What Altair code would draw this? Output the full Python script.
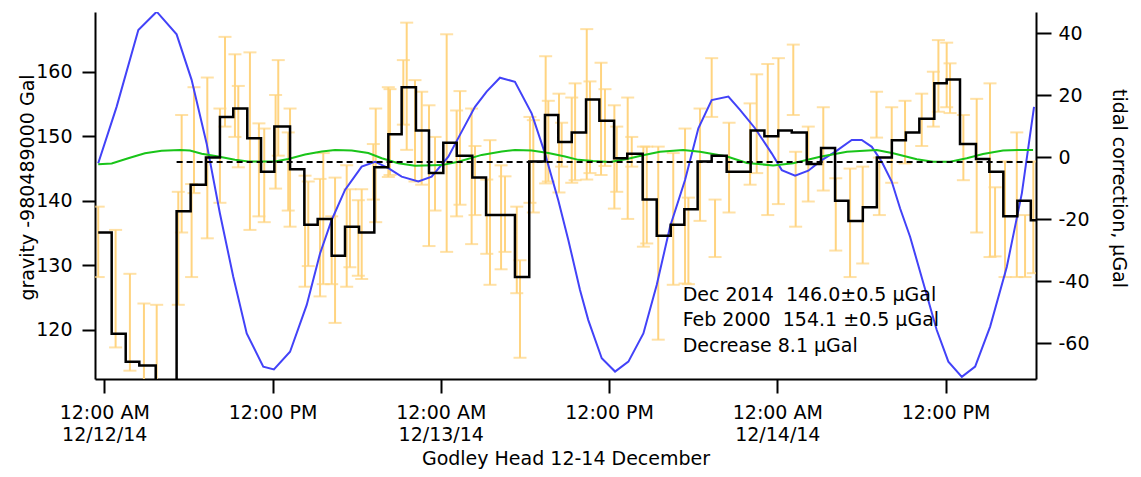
import altair as alt
import pandas as pd

# ---------------- data ----------------
# hours since 12:00 AM 12/12/14
x_min, x_max = -0.66, 66.45

step_hours = [-0.43, 0.53, 1.53, 2.50, 3.67, 5.16, 6.16, 7.25, 8.25, 9.20, 10.20, 11.18,
              12.13, 13.25, 14.27, 15.22, 16.22, 17.17, 18.17, 19.26, 20.26, 21.21, 22.23,
              23.16, 24.18, 25.14, 26.25, 27.23, 29.29, 30.31, 31.43, 32.38, 33.34, 34.36,
              35.31, 36.36, 37.30, 38.40, 39.40, 40.40, 41.37, 42.32, 43.32, 44.39, 46.10,
              47.08, 48.07, 49.03, 50.10, 51.12, 52.12, 53.07, 54.10, 55.10, 56.17, 57.17,
              58.13, 59.20, 60.08, 61.03, 62.17, 63.12, 64.12, 65.12, 66.08, 66.45]
step_gravity = [135.1, 119.4, 115.1, 114.5, 108.0, 138.4, 142.5, 146.7, 153.0, 154.3, 149.7, 144.5,
                151.5, 144.9, 136.3, 137.2, 131.5, 136.0, 135.1, 145.2, 150.3, 157.6, 150.9,
                144.3, 149.0, 147.0, 143.6, 137.8, 128.2, 146.1, 153.3, 149.1, 150.6, 155.7,
                152.4, 146.6, 147.3, 140.2, 134.6, 136.3, 138.7, 146.1, 147.0, 144.5, 150.9,
                150.0, 150.9, 150.6, 145.7, 148.2, 140.0, 136.9, 139.0, 146.7, 149.4, 150.6,
                152.7, 158.2, 158.8, 148.8, 146.5, 144.5, 137.6, 140.0, 137.0, 137.0]

eb_hours = [-0.43, 0.81, 1.83, 2.83, 3.74, 5.28, 5.52, 6.23, 6.40, 7.35, 8.25, 8.61, 9.32, 9.56,
            10.39, 11.03, 11.41, 12.22, 12.41, 13.12, 13.25, 14.32, 14.55, 15.39, 15.62, 16.22,
            16.46, 17.29, 17.52, 18.12, 18.36, 19.19, 19.36, 20.26, 20.38, 21.33, 21.57, 22.16,
            22.64, 23.16, 23.59, 24.42, 25.13, 25.37, 26.20, 26.44, 27.28, 27.51, 28.30, 28.58,
            29.42, 29.65, 30.36, 30.60, 31.48, 31.67, 32.43, 32.62, 33.34, 33.58, 34.41, 34.64,
            35.43, 35.71, 36.38, 36.55, 37.33, 37.62, 38.45, 38.69, 39.51, 40.58, 41.42, 41.66,
            42.49, 43.32, 43.56, 44.56, 46.06, 46.53, 47.32, 48.08, 49.14, 49.31, 50.21, 51.28,
            52.17, 53.19, 54.09, 55.08, 55.28, 56.16, 57.11, 58.30, 59.13, 59.49, 60.08, 60.32,
            61.27, 62.22, 63.17, 63.53, 64.24, 65.08, 65.67, 66.26]
eb_upper = [139.1, 135.5, 128.7, 124.1, 123.9, 141.4, 153.3, 142.6, 157.6, 159.1, 154.3, 165.4, 162.7, 157.8,
            163.0, 152.0, 151.2, 156.4, 161.8, 150.6, 154.3, 143.9, 143.0, 143.4, 147.4, 137.6,
            143.6, 145.5, 141.8, 140.1, 141.8, 148.8, 154.3, 157.6, 157.3, 161.8, 167.6, 158.7,
            156.9, 154.8, 149.9, 165.8, 154.0, 157.0, 154.3, 148.5, 143.3, 149.4, 145.5, 143.8,
            139.1, 130.8, 153.0, 152.5, 162.4, 155.5, 156.6, 152.1, 156.0, 158.2, 166.6, 158.5,
            161.4, 157.3, 154.8, 151.5, 156.0, 149.9, 148.4, 148.4, 148.4, 147.4, 151.2, 140.5,
            154.3, 162.1, 140.2, 152.1, 155.1, 159.6, 161.2, 162.1, 164.2, 147.6, 151.5, 154.5,
            143.5, 145.0, 145.3, 156.9, 146.7, 154.5, 155.5, 156.6, 160.0, 164.9, 164.5, 161.3,
            153.3, 155.8, 158.2, 142.1, 146.1, 150.6, 137.8, 146.1]
eb_lower = [128.2, 117.3, 113.7, 104.0, 96.0, 123.9, 135.1, 128.2, 141.2, 134.2, 139.7, 151.5, 149.9, 145.2,
            135.5, 137.6, 136.7, 141.9, 147.0, 138.5, 136.0, 126.7, 129.9, 125.2, 127.1, 127.1,
            121.1, 126.7, 129.7, 128.4, 127.9, 140.2, 136.7, 143.7, 144.0, 151.8, 147.9, 143.0,
            142.5, 133.0, 138.5, 132.1, 137.6, 139.4, 133.3, 137.8, 131.8, 127.0, 129.4, 132.1,
            125.7, 115.7, 139.7, 138.2, 142.7, 143.0, 141.3, 145.3, 142.8, 143.2, 143.3, 144.3,
            144.0, 145.4, 138.8, 141.4, 137.2, 145.3, 132.9, 133.4, 118.5, 127.0, 127.2, 127.1,
            136.9, 153.0, 131.3, 138.2, 142.5, 144.3, 137.8, 139.5, 153.3, 136.0, 139.9, 141.6,
            132.3, 128.2, 130.3, 149.8, 137.8, 142.8, 145.8, 148.5, 151.5, 153.8, 154.5, 153.6,
            143.2, 135.1, 131.3, 131.4, 128.2, 128.2, 128.2, 128.8]

tide_hours = [-0.43, 0.88, 2.43, 3.74, 5.16, 6.23, 7.30, 8.25, 9.20, 10.16, 11.34, 12.10, 13.25,
              14.44, 15.39, 16.22, 17.17, 18.36, 19.31, 20.26, 21.21, 22.40, 23.35, 24.54, 25.49,
              26.44, 27.27, 28.22, 29.29, 30.48, 31.43, 32.38, 33.10, 33.93, 34.52, 35.48, 36.43,
              37.38, 38.45, 39.40, 40.35, 41.42, 42.37, 43.32, 44.51, 45.34, 46.41, 47.60, 48.32,
              49.27, 50.21, 51.17, 52.12, 53.31, 54.02, 54.74, 55.45, 56.16, 56.76, 57.47, 58.42,
              59.37, 60.20, 61.16, 62.11, 63.18, 64.37, 65.44, 66.31]
tide_values = [-1.9, 16.3, 41.1, 47.0, 39.7, 25.0, 4.5, -18.1, -38.5, -56.8, -67.5, -68.4, -62.7,
               -47.6, -31.0, -20.2, -10.5, -3.0, -1.4, -3.5, -6.2, -7.8, -6.2, 0.2, 8.3,
               16.3, 21.2, 25.7, 24.4, 14.2, 1.3, -13.8, -26.7, -42.8, -52.5, -64.8, -69.1,
               -65.9, -56.8, -41.2, -22.4, -7.3, 9.4, 18.5, 19.6, 15.3, 9.4, 1.3, -4.1,
               -5.9, -4.3, -0.9, 1.8, 5.6, 5.6, 3.4, -1.4, -7.8, -16.5, -25.6, -40.6,
               -55.7, -65.9, -70.8, -67.5, -54.6, -35.3, -11.6, 16.3]

green_hours = [-0.43, 0.53, 1.71, 2.90, 4.09, 5.40, 6.11, 6.95, 8.13, 9.32, 10.27, 12.18, 13.12,
               14.32, 15.51, 16.46, 17.65, 18.83, 19.79, 20.97, 22.16, 24.07, 25.25, 26.92, 28.35,
               29.29, 30.48, 31.67, 32.86, 33.81, 34.86, 36.07, 37.28, 38.42, 39.63, 41.28, 42.49,
               44.42, 45.84, 47.70, 49.12, 51.05, 52.97, 55.09, 56.26, 57.95, 59.11, 60.32, 61.51,
               62.67, 64.10, 65.31, 66.24]
green_values = [-2.2, -2.0, -0.3, 1.3, 2.1, 2.4, 2.2, 1.2, 0.3, -0.8, -1.3, -1.3, -0.5,
                0.9, 1.9, 2.4, 2.2, 1.4, -0.3, -1.9, -2.7, -2.5, -1.4, 0.8, 1.9,
                2.4, 2.2, 1.4, 0.3, -0.8, -1.2, -1.5, -0.5, 0.7, 1.8, 2.4, 1.8,
                0.3, -1.8, -2.6, -1.9, 0.2, 1.8, 2.4, 1.3, -0.6, -1.4, -1.4, -0.3,
                1.1, 2.2, 2.4, 2.4]

mean_level = 146.0
mean_start_hour = 5.16

NB = "\u00a0"
annotation_lines = ["Dec 2014" + NB + NB + "146.0\u00b10.5" + NB + "\u00b5Gal",
                    "Feb 2000" + NB + NB + "154.1" + NB + "\u00b10.5" + NB + "\u00b5Gal",
                    "Decrease 8.1" + NB + "\u00b5Gal"]
annotation_hour = [41.25, 41.25, 41.25]
annotation_gravity = [124.5, 120.6, 116.6]

x_tick_hours = [0, 12, 24, 36, 48, 60]
x_tick_labels = [["12:00 AM", "12/12/14"], ["12:00 PM"], ["12:00 AM", "12/13/14"],
                 ["12:00 PM"], ["12:00 AM", "12/14/14"], ["12:00 PM"]]
left_ticks = [120, 130, 140, 150, 160]
right_ticks = [-60, -40, -20, 0, 20, 40]

g_domain = [112.41, 169.25]
t_domain = [-71.5, 46.9]

FONT = "DejaVu Sans"
ORANGE = "#FFD480"

# ---------------- tables ----------------
step_df = pd.DataFrame({"h": step_hours, "g": step_gravity})
eb_df = pd.DataFrame({"h": eb_hours, "up": eb_upper, "lo": eb_lower})
cap_df = pd.DataFrame({"h": eb_hours + eb_hours, "v": eb_upper + eb_lower})
tide_df = pd.DataFrame({"h": tide_hours, "t": tide_values})
green_df = pd.DataFrame({"h": green_hours, "t": green_values})
mean_df = pd.DataFrame({"h1": [mean_start_hour], "h2": [x_max], "g": [mean_level]})
ann_df = pd.DataFrame({"h": annotation_hour, "g": annotation_gravity, "txt": annotation_lines})


def lbl(lines):
    return "[" + ",".join("'" + s + "'" for s in lines) + "]"


label_expr = ""
for hv, lines in zip(x_tick_hours, x_tick_labels):
    label_expr += f"datum.value == {hv} ? {lbl(lines)} : "
label_expr += "''"

xscale = alt.Scale(domain=[x_min, x_max], nice=False, zero=False)
gscale = alt.Scale(domain=g_domain, nice=False, zero=False)
tscale = alt.Scale(domain=t_domain, nice=False, zero=False)

x_axis = alt.Axis(values=x_tick_hours, tickSize=14, labelPadding=10, labelExpr=label_expr,
                  labelLineHeight=22, labelBaseline="top", labelAlign="center",
                  labelOverlap=False, labelFlush=False,
                  title="Godley Head 12-14 December", titleY=85, titleBaseline="alphabetic",
                  titleX=470.5, titleAlign="center")

left_axis = alt.Axis(orient="left", values=left_ticks, tickSize=13, labelPadding=10,
                     title="gravity -980489000 Gal", titleAngle=-90, titleBaseline="alphabetic",
                     titleAlign="center", titleX=-62, titleY=175)

right_axis = alt.Axis(orient="right", values=right_ticks, tickSize=15, labelPadding=7,
                      labelAlign="left",
                      labelExpr="datum.value < 0 ? '-' + abs(datum.value) : '\u2002' + datum.value",
                      title="tidal correction, \u00b5Gal", titleAngle=90, titleBaseline="alphabetic",
                      titleAlign="center", titleX=76, titleY=176)

X = alt.X("h:Q", scale=xscale, axis=x_axis)

# background: error bars (left scale and axis)
bars = alt.Chart(eb_df).mark_rule(color=ORANGE, strokeWidth=2, clip=True).encode(
    x=X,
    y=alt.Y("up:Q", scale=gscale, axis=left_axis),
    y2="lo:Q",
)
caps = alt.Chart(cap_df).mark_tick(color=ORANGE, orient="horizontal", size=13, thickness=2,
                                   clip=True).encode(
    x=X,
    y=alt.Y("v:Q", scale=gscale, axis=left_axis),
)
grav_bg = alt.layer(bars, caps)

# tidal corrections (right scale and axis)
blue = alt.Chart(tide_df).mark_line(color="#4242f8", strokeWidth=2, clip=True).encode(
    x=X,
    y=alt.Y("t:Q", scale=tscale, axis=right_axis),
)
green = alt.Chart(green_df).mark_line(color="#19c419", strokeWidth=2, clip=True).encode(
    x=X,
    y=alt.Y("t:Q", scale=tscale, axis=right_axis),
)
tidal = alt.layer(blue, green)

# foreground: step line, mean line, annotation (left scale, no extra axis)
steps = alt.Chart(step_df).mark_line(color="black", strokeWidth=2.5, interpolate="step-after",
                                     clip=True).encode(
    x=X,
    y=alt.Y("g:Q", scale=gscale, axis=None),
)
mean = alt.Chart(mean_df).mark_rule(color="black", strokeWidth=2, strokeDash=[6, 4],
                                    clip=True).encode(
    x=alt.X("h1:Q", scale=xscale, axis=x_axis),
    x2="h2:Q",
    y=alt.Y("g:Q", scale=gscale, axis=None),
)
ann = alt.Chart(ann_df).mark_text(align="left", baseline="alphabetic", font=FONT, fontSize=19,
                                  color="black").encode(
    x=X,
    y=alt.Y("g:Q", scale=gscale, axis=None),
    text="txt:N",
)
grav_fg = alt.layer(steps, mean, ann)

chart = alt.layer(grav_bg, tidal, grav_fg).resolve_scale(y="independent").properties(
    width=941, height=367,
    autosize=alt.AutoSizeParams(type="none"),
    padding={"left": 87, "top": 4, "right": 97, "bottom": 90},
).configure_view(stroke=None).configure_axis(
    grid=False, domainColor="black", domainWidth=2, tickColor="black", tickWidth=2,
    labelFont=FONT, labelFontSize=19, labelColor="black",
    titleFont=FONT, titleFontSize=19, titleFontWeight="normal", titleColor="black",
)

chart.save("out.html", embed_options={"renderer": "svg", "actions": False})
